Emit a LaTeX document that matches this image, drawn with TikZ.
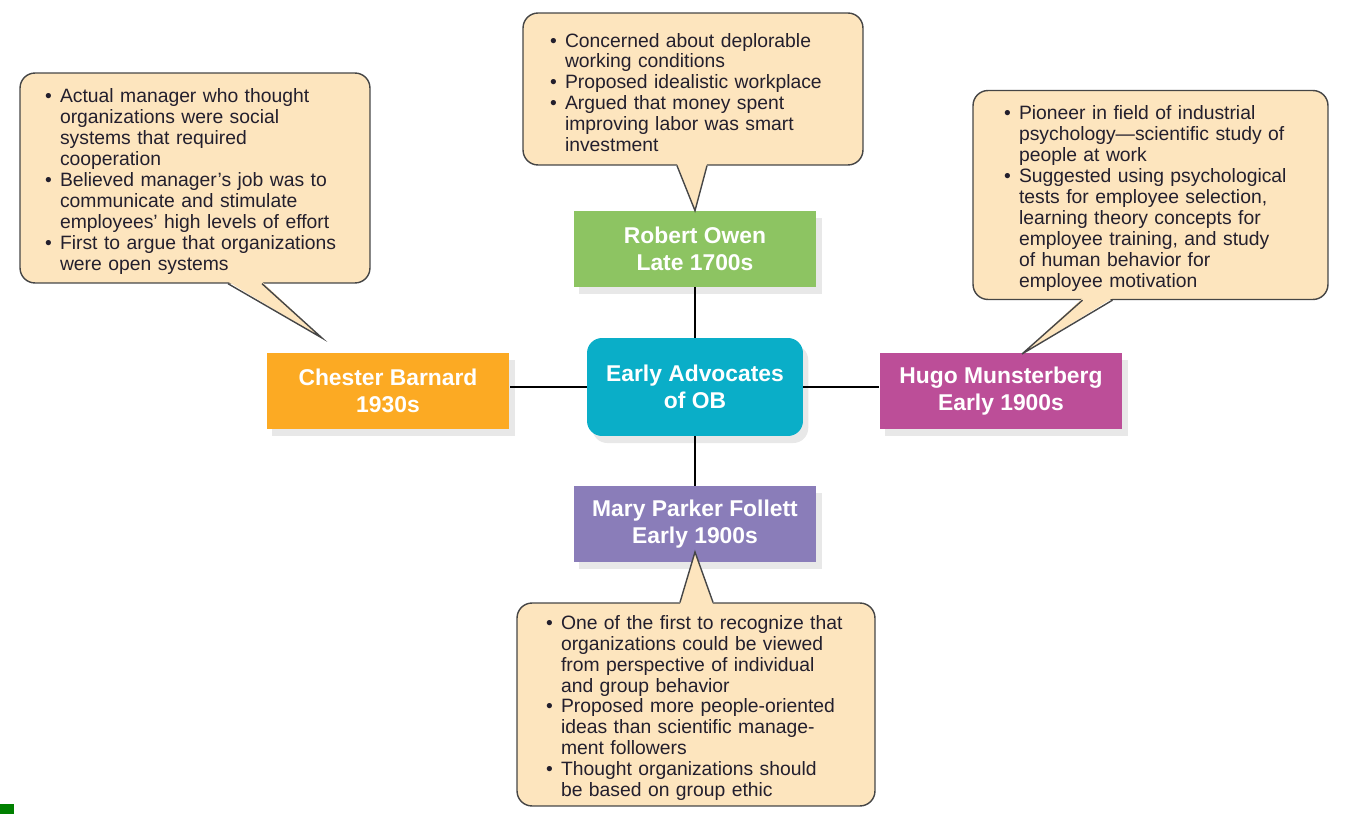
\documentclass[tikz,border=0pt]{standalone}
\usepackage{fontspec}
\setmainfont{Liberation Sans}
\usepackage{xcolor}
\usetikzlibrary{calc, shadows}
\definecolor{hubcol}{RGB}{10,174,200}
\definecolor{owencol}{RGB}{141,196,98}
\definecolor{barnardcol}{RGB}{252,170,35}
\definecolor{hugocol}{RGB}{188,78,152}
\definecolor{marycol}{RGB}{138,125,185}
\definecolor{notefill}{RGB}{253,229,190}
\definecolor{noteline}{RGB}{70,70,70}
\definecolor{notetext}{RGB}{35,31,45}
\newcommand{\bitem}[1]{\par\noindent\hangindent=0.3cm\hangafter=1\makebox[0.3cm][l]{\textbullet}#1\par}

\begin{document}
\begin{tikzpicture}[x=0.02cm, y=-0.02cm,
person/.style={minimum width=4.86cm, minimum height=1.52cm, inner sep=0pt, text=white, align=center,
  font=\fontsize{13}{15}\selectfont\bfseries, drop shadow={opacity=0.18, shadow xshift=3pt, shadow yshift=-4pt}},
hub/.style={person, minimum width=4.32cm, minimum height=1.96cm, rounded corners=0.3cm, fill=hubcol},
note/.style={draw=noteline, fill=notefill, line width=0.8pt, rounded corners=0.3cm, text=notetext,
  align=left, inner ysep=0pt, font=\fontsize{11}{11.9}\selectfont},
pointer/.style={draw=noteline, line width=0.8pt},
link/.style={line width=1.6pt, black}]
\useasboundingbox (0,0) rectangle (1353,814);
% the four advocates and the hub
\node[hub] (hub) at (695,387) {Early Advocates\\of OB};
\node[person, fill=owencol] (owen) at (695,249) {Robert Owen\\Late 1700s};
\node[person, fill=barnardcol] (barnard) at (388,391) {Chester Barnard\\1930s};
\node[person, fill=hugocol] (hugo) at (1001,391) {Hugo Munsterberg\\Early 1900s};
\node[person, fill=marycol] (mary) at (695,524) {Mary Parker Follett\\Early 1900s};
\draw[link] (hub.north) -- (owen.south -| hub.north);
\draw[link] (hub.south) -- (mary.north -| hub.south);
\draw[link] (hub.west) -- (hub.west -| barnard.east);
\draw[link] (hub.east) -- (hub.east -| hugo.west);
% callouts
\node[note, minimum width=7cm, minimum height=4.2cm, text width=6cm, inner xsep=0.5cm] (barnardnote) at (195,178) {
\bitem{Actual manager who thought\newline organizations were social\newline systems that required\newline cooperation}
\bitem{Believed manager's job was to\newline communicate and stimulate\newline employees' high levels of effort}
\bitem{First to argue that organizations\newline were open systems}};
\node[note, minimum width=6.8cm, minimum height=3.04cm, text width=5.72cm, inner xsep=0.54cm] (owennote) at (693,89) {
\bitem{Concerned about deplorable\newline working conditions}
\bitem{Proposed idealistic workplace}
\bitem{Argued that money spent\newline improving labor was smart\newline investment}};
\node[note, minimum width=7.1cm, minimum height=4.18cm, text width=5.86cm, inner xsep=0.62cm] (hugonote) at (1150.5,195) {
\bitem{Pioneer in field of industrial\newline psychology---scientific study of\newline people at work}
\bitem{Suggested using psychological\newline tests for employee selection,\newline learning theory concepts for\newline employee training, and study\newline of human behavior for\newline employee motivation}};
\node[note, minimum width=7.16cm, minimum height=4.06cm, text width=6cm, inner xsep=0.58cm] (marynote) at (696,704.5) {
\bitem{One of the first to recognize that\newline organizations could be viewed\newline from perspective of individual\newline and group behavior}
\bitem{Proposed more people-oriented\newline ideas than scientific manage-\newline ment followers}
\bitem{Thought organizations should\newline be based on group ethic}};
% callout pointers
\coordinate (barnardtip) at (322,338);
\coordinate (hugotip) at (1022,354);
\coordinate (marytip) at (695,552);
\fill[notefill] ($(barnardnote.south)+(33,-2)$) -- (barnardtip) -- ($(barnardnote.south)+(67,-2)$) -- cycle;
\draw[pointer] ($(barnardnote.south)+(33,0)$) -- (barnardtip) -- ($(barnardnote.south)+(67,0)$);
\fill[notefill] ($(owennote.south)+(-16,-2)$) -- (owen.north) -- ($(owennote.south)+(14,-2)$) -- cycle;
\draw[pointer] ($(owennote.south)+(-16,0)$) -- (owen.north) -- ($(owennote.south)+(14,0)$);
\fill[notefill] ($(hugonote.south)+(-68,-2)$) -- (hugotip) -- ($(hugonote.south)+(-38,-2)$) -- cycle;
\draw[pointer] ($(hugonote.south)+(-68,0)$) -- (hugotip) -- ($(hugonote.south)+(-38,0)$);
\fill[notefill] ($(marynote.north)+(-16,2)$) -- (marytip) -- ($(marynote.north)+(17,2)$) -- cycle;
\draw[pointer] ($(marynote.north)+(-16,0)$) -- (marytip) -- ($(marynote.north)+(17,0)$);
\fill[green!50!black] (0,804) rectangle (14,814);
\end{tikzpicture}
\end{document}
